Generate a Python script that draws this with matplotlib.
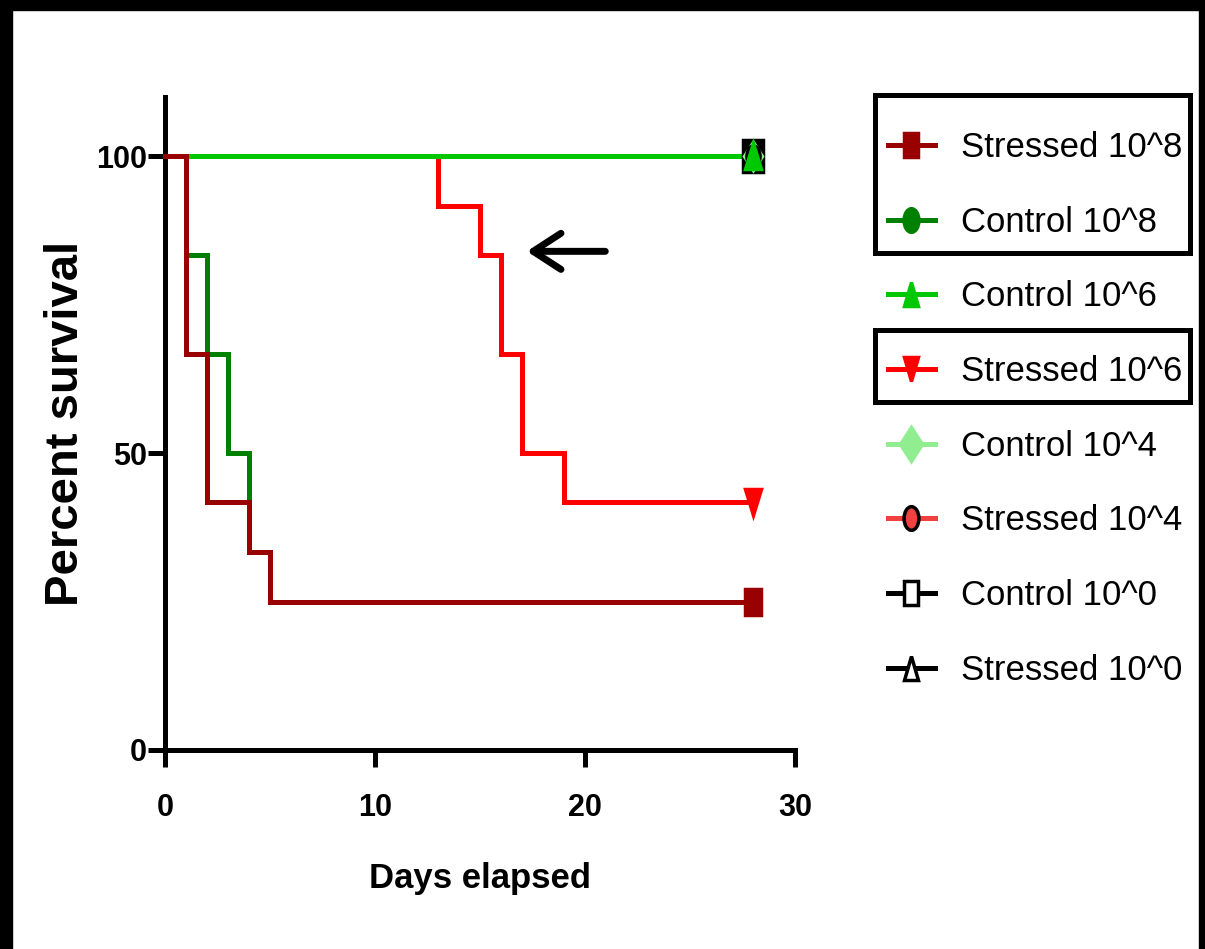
import matplotlib
matplotlib.use("Agg")
import matplotlib.pyplot as plt
from matplotlib.markers import MarkerStyle
from matplotlib.transforms import Affine2D
from matplotlib.lines import Line2D
from matplotlib.patches import Rectangle

# survival data (days, percent survival)
labels = ["Stressed 10^8", "Control 10^8", "Control 10^6", "Stressed 10^6",
          "Control 10^4", "Stressed 10^4", "Control 10^0", "Stressed 10^0"]

t_s8 = [0, 1, 2, 4, 5, 28]
s_s8 = [100, 66.7, 41.7, 33.3, 25, 25]
t_c8 = [0, 1, 2, 3, 4, 5, 28]
s_c8 = [100, 83.3, 66.7, 50, 33.3, 25, 25]
t_c6 = [0, 28]
s_c6 = [100, 100]
t_s6 = [0, 13, 15, 16, 17, 19, 28]
s_s6 = [100, 91.7, 83.3, 66.7, 50, 41.7, 41.7]
t_c4 = [0, 28]
s_c4 = [100, 100]
t_s4 = [0, 28]
s_s4 = [100, 100]
t_c0 = [0, 28]
s_c0 = [100, 100]
t_s0 = [0, 28]
s_s0 = [100, 100]

x_ticks = [0, 10, 20, 30]
y_ticks = [0, 50, 100]

plt.rcParams['font.family'] = ['Liberation Sans', 'DejaVu Sans']


def squash(m):
    # the original picture is squeezed horizontally
    return MarkerStyle(m, transform=Affine2D().scale(0.63, 1))


# name, t, s, color, marker, face, edge, size, zorder
series = [
    ("Control 10^0", t_c0, s_c0, "black", "s", "black", "black", 23, 2),
    ("Stressed 10^0", t_s0, s_s0, "black", "^", "white", "black", 15, 2.1),
    ("Control 10^4", t_c4, s_c4, "#90ee90", "D", "#90ee90", "#90ee90", 14, 2.2),
    ("Stressed 10^4", t_s4, s_s4, "#f04040", "o", "#f04040", "black", 15, 2.3),
    ("Control 10^8", t_c8, s_c8, "#008000", "o", "#008000", "#008000", 15, 2.4),
    ("Stressed 10^6", t_s6, s_s6, "#ff0000", "v", "#ff0000", "#ff0000", 19, 2.5),
    ("Control 10^6", t_c6, s_c6, "#00c800", "^", "#00c800", "#00c800", 19, 2.6),
    ("Stressed 10^8", t_s8, s_s8, "#990000", "s", "#990000", "#990000", 19, 2.7),
]
legend_face = {"Control 10^0": "white"}

fig = plt.figure(figsize=(12.05, 9.49), dpi=100)
ax = fig.add_axes([0.1369, 0.2097, 0.5228, 0.6881])

handles = {}
for name, t, s, col, mk, fc, ec, ms, z in series:
    ax.plot(t, s, drawstyle="steps-post", color=col, lw=3.6, zorder=z,
            solid_joinstyle="miter", clip_on=False)
    ax.plot(t[-1], s[-1], linestyle="none", marker=squash(mk), ms=ms,
            mfc=fc, mec=ec, mew=2.5, zorder=z + 1, clip_on=False)
    handles[name] = Line2D([], [], color=col, lw=3.6, marker=squash(mk), ms=17,
                           mfc=legend_face.get(name, fc), mec=ec, mew=2.5)

ax.set_xlim(0, 30)
ax.set_ylim(0, 110)
ax.set_xticks(x_ticks)
ax.set_yticks(y_ticks)
ax.spines["top"].set_visible(False)
ax.spines["right"].set_visible(False)
for sp in ["left", "bottom"]:
    ax.spines[sp].set_linewidth(3.6)
ax.tick_params(width=3.6, length=12, labelsize=22)
ax.tick_params(axis="x", pad=19)
ax.tick_params(axis="y", pad=1)
for lab in ax.get_xticklabels() + ax.get_yticklabels():
    lab.set_fontweight("bold")

ax.set_xlabel("Days elapsed", fontsize=25, fontweight="bold", labelpad=28)
ax.set_ylabel("Percent survival", fontsize=34, fontweight="bold", labelpad=6)

# arrow pointing at the Stressed 10^6 curve
ax.annotate("", xy=(17.1, 84), xytext=(21.1, 84),
            arrowprops=dict(arrowstyle="->,head_length=1.0,head_width=0.65",
                            lw=5, color="black", mutation_scale=20))

leg = ax.legend([handles[n] for n in labels], labels, loc="upper left",
                bbox_to_anchor=(888 / 1205, 1 - 131 / 949),
                bbox_transform=fig.transFigure, frameon=False, fontsize=25,
                handlelength=1.35, handletextpad=0.75, labelspacing=1.2,
                borderpad=0, borderaxespad=0)

# boxes around highlighted legend entries
fig.patches.append(Rectangle((875 / 1205, 1 - 253 / 949), 315 / 1205, 158 / 949,
                             transform=fig.transFigure, fill=False, lw=3.6,
                             ec="black"))
fig.patches.append(Rectangle((875 / 1205, 1 - 402 / 949), 315 / 1205, 72 / 949,
                             transform=fig.transFigure, fill=False, lw=3.6,
                             ec="black"))

# black frame at the picture's edges
fig.patches.append(Rectangle((0, 0), 12 / 1205, 1, transform=fig.transFigure,
                             color="black"))
fig.patches.append(Rectangle((0, 1 - 10 / 949), 1, 10 / 949,
                             transform=fig.transFigure, color="black"))
fig.patches.append(Rectangle((1 - 6 / 1205, 0), 6 / 1205, 1,
                             transform=fig.transFigure, color="black"))

fig.savefig("out.png", dpi=100)
